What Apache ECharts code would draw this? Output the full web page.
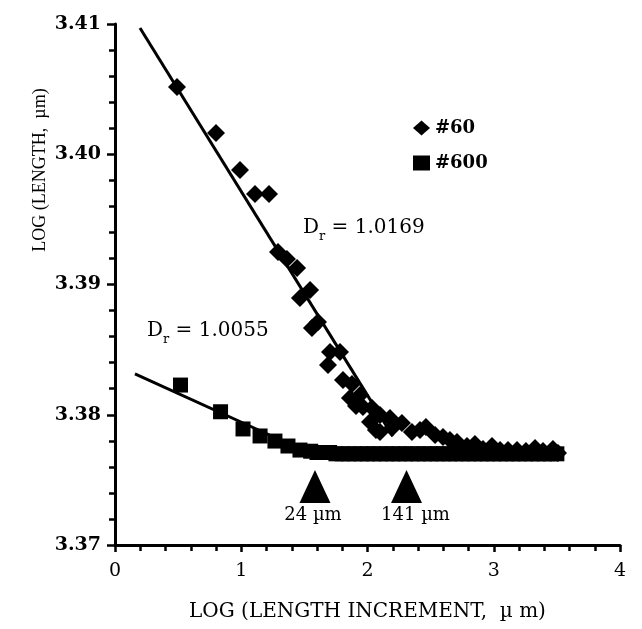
<!DOCTYPE html>
<html>
<head>
<meta charset="utf-8">
<script src="https://cdn.jsdelivr.net/npm/echarts@6/dist/echarts.min.js"></script>
<style>
html,body{margin:0;padding:0;background:#fff;}
#chart{width:642px;height:629px;}
</style>
</head>
<body>
<div id="chart"></div>
<script>
// ---- data ----
var xTicks = [0, 1, 2, 3, 4];
var yTicks = [3.37, 3.38, 3.39, 3.40, 3.41];

var d60X = [0.491,0.800,0.990,1.109,1.220,1.291,1.362,1.442,1.465,1.545,1.560,1.608,1.703,1.782,1.687,1.806,1.877,1.861,1.941,1.964,2.036,2.020,2.099,2.099,2.178,2.194,2.273,2.352,2.416,2.463,2.535,2.598,2.653,2.709,2.788,2.851,2.915,2.986,3.050,3.113,3.184,3.255,3.327,3.390,3.469,3.509,1.909,2.067];
var d60Y = [3.40516,3.40163,3.39879,3.39695,3.39695,3.39250,3.39196,3.39127,3.38896,3.38958,3.38666,3.38712,3.38482,3.38482,3.38382,3.38267,3.38236,3.38129,3.38152,3.38060,3.38052,3.37944,3.37998,3.37868,3.37975,3.37898,3.37937,3.37868,3.37883,3.37906,3.37845,3.37829,3.37806,3.37791,3.37760,3.37775,3.37737,3.37760,3.37729,3.37729,3.37729,3.37722,3.37745,3.37722,3.37737,3.37706,3.38067,3.37883];

var sq600X = [0.519,0.836,1.014,1.149,1.267,1.370,1.465,1.55,1.60,1.65,1.70,1.75,1.80,1.85,1.90,1.95,2.00,2.05,2.10,2.15,2.20,2.25,2.30,2.35,2.40,2.45,2.50,2.55,2.60,2.65,2.70,2.75,2.80,2.85,2.90,2.95,3.00,3.05,3.10,3.15,3.20,3.25,3.30,3.35,3.40,3.45,3.50];
var sq600Y = [3.38228,3.38023,3.37891,3.37837,3.37798,3.37760,3.37729,3.3772,3.3771,3.3771,3.3771,3.3770,3.3770,3.3770,3.3770,3.3770,3.3770,3.3770,3.3770,3.3770,3.3770,3.3770,3.3770,3.3770,3.3770,3.3770,3.3770,3.3770,3.3770,3.3770,3.3770,3.3770,3.3770,3.3770,3.3770,3.3770,3.3770,3.3770,3.3770,3.3770,3.3770,3.3770,3.3770,3.3770,3.3770,3.3770,3.3770];

var fit60X = [0.198, 2.20];
var fit60Y = [3.40969, 3.37836];
var fit600X = [0.158, 1.25];
var fit600Y = [3.38313, 3.37833];

var triX = [1.584, 2.309];
var triY = [3.3745, 3.3745];
var triLabels = ['24 µm', '141 µm'];

var seriesNames = ['#60', '#600'];

function pairs(xs, ys) { return xs.map(function (x, i) { return [x, ys[i]]; }); }

var chart = echarts.init(document.getElementById('chart'), null, {renderer: 'canvas'});

var serif = 'DejaVu Serif';
var black = {color: '#000', opacity: 1};

var option = {
  animation: false,
  backgroundColor: '#fff',
  grid: {left: 115, right: 22, top: 24, bottom: 84, containLabel: false},
  legend: {
    data: [
      {name: seriesNames[0], icon: 'diamond'},
      {name: seriesNames[1], icon: 'rect'}
    ],
    orient: 'vertical',
    left: 408, top: 114,
    itemWidth: 17, itemHeight: 15, itemGap: 17,
    itemStyle: {color: '#000', opacity: 1},
    textStyle: {color: '#000', fontFamily: serif, fontWeight: 'bold', fontSize: 18}
  },
  xAxis: {
    type: 'value', min: 0, max: 4, interval: 1,
    name: 'LOG (LENGTH INCREMENT,  µ m)', nameLocation: 'middle', nameGap: 57,
    nameTextStyle: {color: '#000', fontFamily: serif, fontSize: 20},
    axisLine: {onZero: false, lineStyle: {color: '#000', width: 3}},
    axisTick: {show: true, inside: false, length: 7, lineStyle: {color: '#000', width: 2.5}},
    minorTick: {show: true, splitNumber: 5, length: 6, lineStyle: {color: '#000', width: 2.5}},
    splitLine: {show: false}, minorSplitLine: {show: false},
    axisLabel: {color: '#000', fontFamily: serif, fontSize: 19, margin: 17,
      formatter: function (v) { return xTicks.indexOf(v) >= 0 ? String(v) : ''; }}
  },
  yAxis: {
    type: 'value', min: 3.37, max: 3.41, interval: 0.01,
    axisLine: {onZero: false, lineStyle: {color: '#000', width: 3}},
    axisTick: {show: true, inside: false, length: 8, lineStyle: {color: '#000', width: 2.5}},
    minorTick: {show: true, splitNumber: 5, length: 6, lineStyle: {color: '#000', width: 2.5}},
    splitLine: {show: false}, minorSplitLine: {show: false},
    axisLabel: {color: '#000', fontFamily: serif, fontWeight: 'bold', fontSize: 19, margin: 14,
      formatter: function (v) { return v.toFixed(2); }}
  },
  series: [
    {
      name: seriesNames[0], type: 'scatter', symbol: 'diamond', symbolSize: 18,
      itemStyle: black, emphasis: {disabled: true}, data: pairs(d60X, d60Y), z: 3
    },
    {
      name: seriesNames[1], type: 'scatter', symbol: 'rect', symbolSize: 15,
      itemStyle: black, emphasis: {disabled: true}, data: pairs(sq600X, sq600Y), z: 3
    },
    {
      name: 'fit60', type: 'line', showSymbol: false, symbol: 'none',
      lineStyle: {color: '#000', width: 3, opacity: 1}, data: pairs(fit60X, fit60Y), z: 4
    },
    {
      name: 'fit600', type: 'line', showSymbol: false, symbol: 'none',
      lineStyle: {color: '#000', width: 3, opacity: 1}, data: pairs(fit600X, fit600Y), z: 4
    },
    {
      name: 'markers', type: 'scatter', symbol: 'triangle', symbolSize: [31, 33],
      itemStyle: black, emphasis: {disabled: true},
      data: triX.map(function (x, i) {
        return {value: [x, triY[i]], name: triLabels[i],
          label: {offset: [i === 1 ? 9 : -2, 0]}};
      }),
      label: {show: true, position: 'bottom', distance: 3, color: '#000', opacity: 1,
        fontFamily: serif, fontSize: 18, formatter: '{b}'}
    }
  ],
  graphic: [
    {
      type: 'text', x: 40, y: 170, rotation: Math.PI / 2,
      style: {text: 'LOG (LENGTH,  µm)', fill: '#000', font: '18px "Liberation Serif"',
        align: 'center', verticalAlign: 'middle'}
    },
    {
      type: 'text', left: 303, top: 218,
      style: {
        text: '{a|D}{b|r}{a| = 1.0169}', fill: '#000',
        rich: {
          a: {fontFamily: serif, fontSize: 20, lineHeight: 28, verticalAlign: 'top', fill: '#000'},
          b: {fontFamily: serif, fontSize: 13, lineHeight: 13, padding: [12, 0, 0, 0], verticalAlign: 'top', fill: '#000'}
        }
      }
    },
    {
      type: 'text', left: 147, top: 321,
      style: {
        text: '{a|D}{b|r}{a| = 1.0055}', fill: '#000',
        rich: {
          a: {fontFamily: serif, fontSize: 20, lineHeight: 28, verticalAlign: 'top', fill: '#000'},
          b: {fontFamily: serif, fontSize: 13, lineHeight: 13, padding: [12, 0, 0, 0], verticalAlign: 'top', fill: '#000'}
        }
      }
    }
  ]
};
chart.setOption(option);
</script>
</body>
</html>
